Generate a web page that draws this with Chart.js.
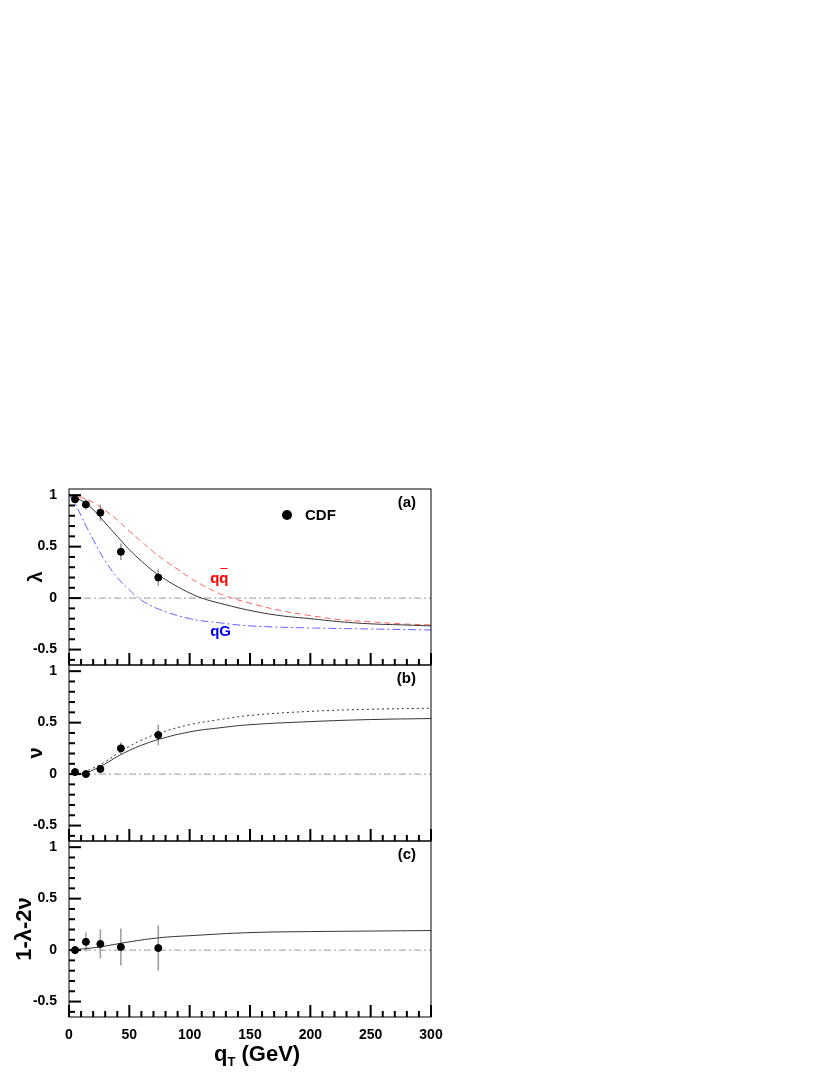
<!DOCTYPE html>
<html>
<head>
<meta charset="utf-8">
<script src="https://cdn.jsdelivr.net/npm/chart.js@4"></script>
<style>
body{margin:0;background:#fff;width:830px;height:1075px;position:relative;overflow:hidden}
canvas{position:absolute;left:0}
</style>
</head>
<body>
<canvas id="pa"></canvas>
<canvas id="pb"></canvas>
<canvas id="pc"></canvas>
<script>
// punti CDF (qT, valore, errore)
const cdfQt = [5, 14, 26, 43, 74];
const lambdaVal = [0.96, 0.91, 0.83, 0.45, 0.20];
const lambdaErr = [0.04, 0.05, 0.08, 0.08, 0.08];
const nuVal = [0.02, 0.0, 0.05, 0.25, 0.38];
const nuErr = [0.03, 0.03, 0.03, 0.06, 0.10];
const lamTamVal = [0.0, 0.08, 0.06, 0.03, 0.02];
const lamTamErr = [0.03, 0.09, 0.14, 0.18, 0.22];

// curve teoriche
const lamTotX = [0,10,20,30,40,50,60,70,80,90,100,110,125,150,175,200,225,250,275,300];
const lamTotY = [1.0,0.95,0.86,0.73,0.60,0.47,0.36,0.26,0.18,0.11,0.05,0.0,-0.05,-0.12,-0.17,-0.20,-0.23,-0.25,-0.26,-0.27];
const lamQqX = [0,10,20,30,40,50,60,70,80,90,100,110,120,130,150,175,200,225,250,275,300];
const lamQqY = [1.0,0.98,0.93,0.85,0.76,0.65,0.55,0.45,0.36,0.28,0.20,0.13,0.07,0.02,-0.05,-0.12,-0.17,-0.21,-0.23,-0.25,-0.26];
const lamQgX = [0,5,10,15,20,25,30,40,50,60,75,100,125,150,200,250,300];
const lamQgY = [1.0,0.92,0.80,0.68,0.57,0.46,0.36,0.20,0.08,-0.02,-0.11,-0.20,-0.24,-0.27,-0.29,-0.30,-0.31];
const nuX = [0,10,20,30,40,50,60,75,100,125,150,200,250,300];
const nuSolidY = [0,0.0,0.04,0.10,0.17,0.23,0.28,0.34,0.41,0.45,0.48,0.51,0.53,0.54];
const nuDotY = [0,0.01,0.06,0.12,0.20,0.27,0.33,0.40,0.48,0.53,0.57,0.61,0.63,0.64];
const ltX = [0,10,25,50,75,100,150,200,250,300];
const ltY = [0,0.01,0.03,0.08,0.12,0.14,0.17,0.18,0.185,0.19];

const xTicks = [0,50,100,150,200,250,300];
const yTicks = [-0.5,0,0.5,1];

const FONT = "'Liberation Sans', Arial, sans-serif";

function pts(xs, ys){ return xs.map((x,i)=>({x:x, y:ys[i]})); }

function curva(xs, ys, color, dash){
    return {type:'line', data:pts(xs,ys), borderColor:color, borderWidth:1, borderDash:dash,
            pointRadius:0, tension:0.4, fill:false, showLine:true};
}

// plugin: cornice, tacche, linea dello zero, barre di errore, testi
const decor = {
    id:'decor',
    beforeDatasetsDraw(chart, args, o){
        const ctx = chart.ctx, a = chart.chartArea;
        const xs = chart.scales.x, ys = chart.scales.y;
        ctx.save();
        ctx.strokeStyle = '#999'; ctx.lineWidth = 1; ctx.setLineDash([7,3,2,3]);
        ctx.beginPath(); ctx.moveTo(a.left, ys.getPixelForValue(0)); ctx.lineTo(a.right, ys.getPixelForValue(0)); ctx.stroke();
        ctx.setLineDash([]);
        ctx.strokeStyle = '#999'; ctx.lineWidth = 1.5;
        o.val.forEach((v,i)=>{
            const px = xs.getPixelForValue(cdfQt[i]);
            ctx.beginPath();
            ctx.moveTo(px, ys.getPixelForValue(v - o.err[i]));
            ctx.lineTo(px, ys.getPixelForValue(v + o.err[i]));
            ctx.stroke();
        });
        ctx.restore();
    },
    afterDraw(chart, args, o){
        const ctx = chart.ctx, a = chart.chartArea;
        const xs = chart.scales.x, ys = chart.scales.y;
        ctx.save();
        ctx.strokeStyle = '#000'; ctx.lineWidth = 1;
        ctx.strokeRect(a.left, a.top, a.right - a.left, a.bottom - a.top);
        ctx.lineWidth = 2;
        for(let k=-6;k<=10;k++){
            const py = ys.getPixelForValue(k/10);
            if(py < a.top || py > a.bottom) continue;
            const len = (k % 5 === 0) ? 12 : 6;
            ctx.beginPath(); ctx.moveTo(a.left, py); ctx.lineTo(a.left + len, py); ctx.stroke();
        }
        for(let q=0;q<=300;q+=10){
            const px = xs.getPixelForValue(q);
            const len = (q % 50 === 0) ? 12 : 6;
            ctx.beginPath(); ctx.moveTo(px, a.bottom); ctx.lineTo(px, a.bottom - len); ctx.stroke();
        }
        ctx.fillStyle = '#000';
        ctx.font = 'bold 15px ' + FONT;
        ctx.textAlign = 'right'; ctx.textBaseline = 'middle';
        ctx.fillText(o.tag, a.right - 15, a.top + 14);
        if(o.legend){
            ctx.beginPath(); ctx.arc(a.right - 144, a.top + 26, 5, 0, 2*Math.PI); ctx.fill();
            ctx.textAlign = 'left'; ctx.font = 'bold 15px ' + FONT;
            ctx.fillText('CDF', a.right - 126, a.top + 27);
            ctx.fillStyle = '#f00';
            const qx = xs.getPixelForValue(117), qy = ys.getPixelForValue(0.19);
            ctx.fillText('qq', qx, qy);
            const w1 = ctx.measureText('q').width, w2 = ctx.measureText('qq').width;
            ctx.strokeStyle = '#f00'; ctx.lineWidth = 1;
            ctx.beginPath(); ctx.moveTo(qx + w1 + 1, qy - 10); ctx.lineTo(qx + w2 - 1, qy - 10); ctx.stroke();
            ctx.fillStyle = '#00f';
            ctx.fillText('qG', xs.getPixelForValue(117), ys.getPixelForValue(-0.33));
        }
        if(o.xtitle){
            ctx.fillStyle = '#000'; ctx.textAlign = 'left'; ctx.textBaseline = 'alphabetic';
            ctx.font = 'bold 22px ' + FONT;
            const x0 = 214, y0 = a.bottom + 44;
            ctx.fillText('q', x0, y0);
            const wq = ctx.measureText('q').width;
            ctx.font = 'bold 13px ' + FONT;
            ctx.fillText('T', x0 + wq, y0 + 5);
            const wt = ctx.measureText('T').width;
            ctx.font = 'bold 22px ' + FONT;
            ctx.fillText(' (GeV)', x0 + wq + wt, y0);
        }
        ctx.restore();
    }
};

function pannello(id, top, height, datasets, ytitle, ytitleSize, titlePad, opts, showX){
    const cv = document.getElementById(id);
    cv.style.top = top + 'px';
    cv.width = 460; cv.height = height;
    cv.style.width = '460px'; cv.style.height = height + 'px';
    return new Chart(cv, {
        type:'scatter',
        data:{datasets:datasets},
        options:{
            responsive:false, animation:false, devicePixelRatio:1,
            layout:{padding:{top:0, right:29, left:0, bottom:0}},
            plugins:{legend:{display:false}, tooltip:{enabled:false}, decor:opts},
            scales:{
                x:{type:'linear', min:0, max:300, display:showX,
                   grid:{display:false}, border:{display:false},
                   afterFit(s){ s.height = showX ? 58 : 0; s.paddingLeft = 0; s.paddingRight = 0; },
                   afterBuildTicks(s){ s.ticks = xTicks.map(v=>({value:v})); },
                   ticks:{font:{family:FONT, size:14, weight:'bold'}, color:'#000', padding:2, maxRotation:0}},
                y:{type:'linear', min:-0.65, max:1.06,
                   grid:{display:false}, border:{display:false},
                   afterFit(s){ s.width = 69; s.paddingTop = 0; s.paddingBottom = 0; },
                   afterBuildTicks(s){ s.ticks = yTicks.map(v=>({value:v})); },
                   ticks:{font:{family:FONT, size:14, weight:'bold'}, color:'#000', padding:4,
                          callback:(v)=>String(v)},
                   title:{display:true, text:ytitle, font:{family:FONT, size:ytitleSize, weight:'bold'}, color:'#000',
                          padding:{top:titlePad, bottom:0}}}
            }
        },
        plugins:[decor]
    });
}

function punti(vals){
    return {type:'scatter', data:pts(cdfQt, vals), backgroundColor:'#000', borderColor:'#000', pointRadius:3.5};
}

pannello('pa', 484, 186, [
    punti(lambdaVal),
    curva(lamTotX, lamTotY, '#333', []),
    curva(lamQqX, lamQqY, '#ff6060', [6,4]),
    curva(lamQgX, lamQgY, '#6060ff', [8,3,2,3])
], 'λ', 20, 24, {tag:'(a)', val:lambdaVal, err:lambdaErr, legend:true}, false);

pannello('pb', 660, 186, [
    punti(nuVal),
    curva(nuX, nuSolidY, '#333', []),
    curva(nuX, nuDotY, '#333', [2,3])
], 'ν', 20, 24, {tag:'(b)', val:nuVal, err:nuErr}, false);

pannello('pc', 836, 239, [
    punti(lamTamVal),
    curva(ltX, ltY, '#333', [])
], '1-λ-2ν', 22, 12, {tag:'(c)', val:lamTamVal, err:lamTamErr, xtitle:true}, true);
</script>
</body>
</html>
